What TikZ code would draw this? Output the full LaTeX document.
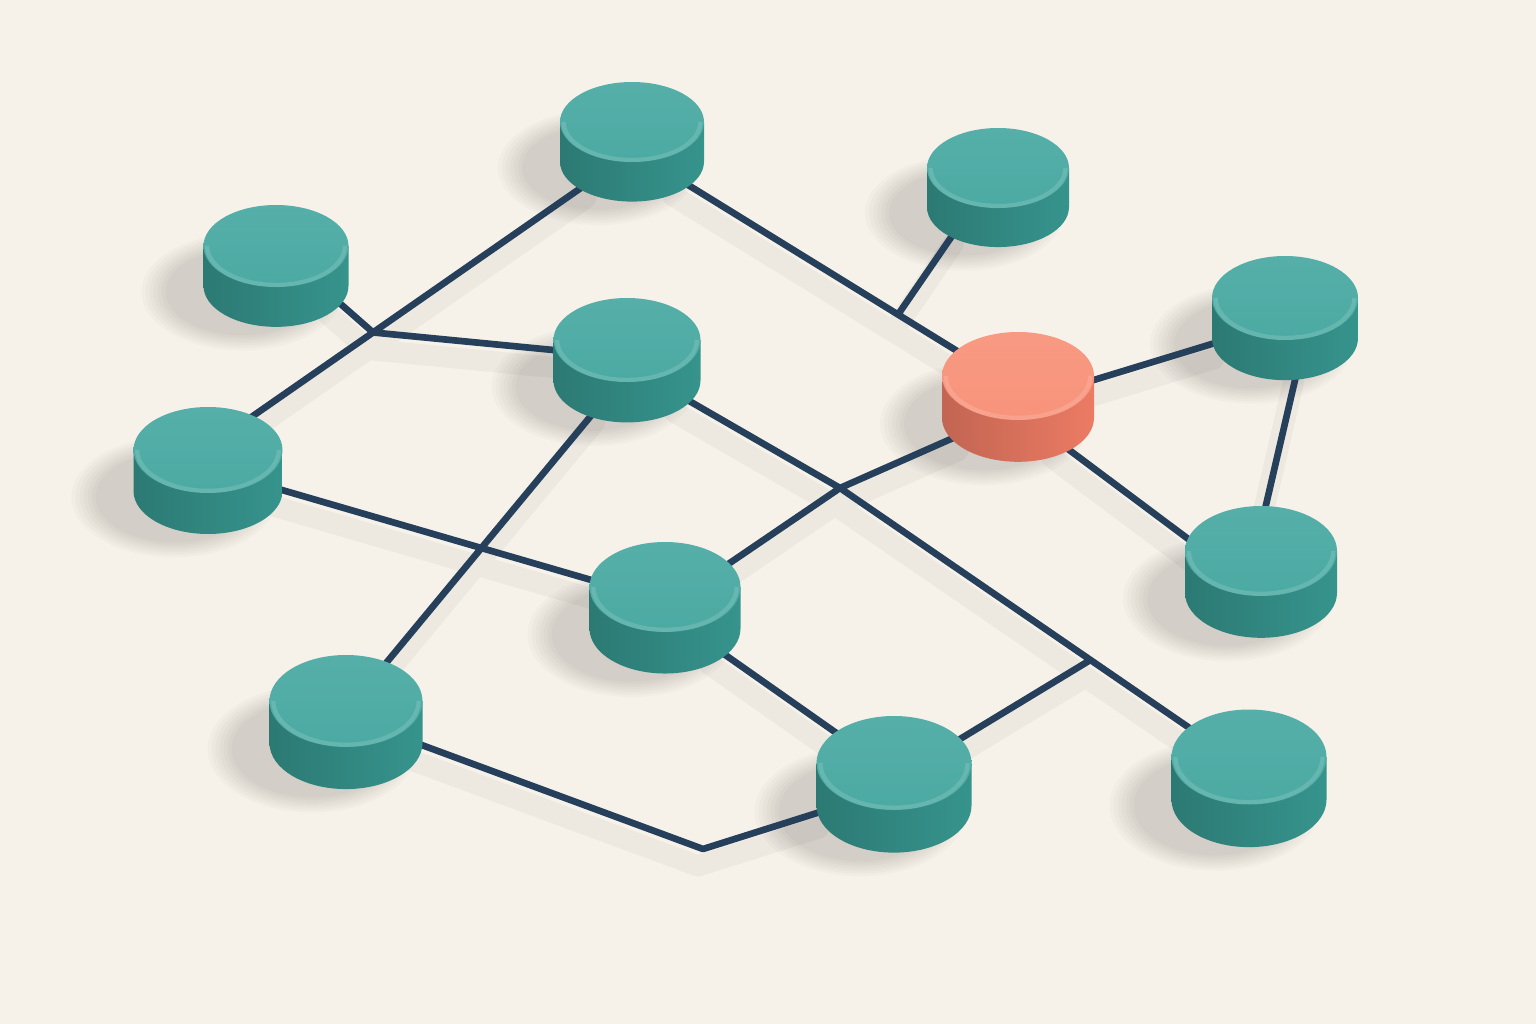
\documentclass[tikz,border=0pt]{standalone}
\usetikzlibrary{shapes.geometric,calc}
\definecolor{paper}{HTML}{F6F2EA}
\definecolor{wire}{HTML}{263F5B}
\definecolor{tealtop}{HTML}{4BAAA3}
\definecolor{tealside}{HTML}{36948D}
\definecolor{coraltop}{HTML}{F8937B}
\definecolor{coralside}{HTML}{EC7B64}

\begin{document}
\begin{tikzpicture}[x=0.01cm, y=0.01cm,
        hub/.style={ellipse, inner sep=0pt, outer sep=0pt},
        wire/.style={draw=wire, line width=1.9pt, line cap=round, line join=round},
        wireshade/.style={draw=black, opacity=0.035, line width=6pt, line cap=round, line join=round,
            transform canvas={xshift=-0.05cm, yshift=-0.17cm}},
        rim/.style={white, opacity=0.14, line width=1.2pt}]

        \fill[paper] (0,-1024) rectangle (1536,0);
        \useasboundingbox (0,-1024) rectangle (1536,0);

        \def\discs{n1/632/-122/72/40/tealtop/tealside, n2/998/-168/71/40/tealtop/tealside,
            n3/276/-246/72.5/41/tealtop/tealside, n4/627/-340/73.5/42/tealtop/tealside,
            n5/1018/-376/76/44/coraltop/coralside, n6/1285/-298/73/42/tealtop/tealside,
            n7/208/-450/74.5/43/tealtop/tealside, n8/1261/-551/76/45/tealtop/tealside,
            n9/665/-587/75.5/45/tealtop/tealside, n10/346/-701/76.5/46/tealtop/tealside,
            n11/894/-763/77.5/47/tealtop/tealside, n12/1249/-757/77.5/47.5/tealtop/tealside}

        \foreach \n/\x/\y/\rx/\ry/\ct/\cs in \discs {
            \pgfmathsetmacro\h{0.55*\rx}
            \foreach \k in {1,...,7}
                \fill[black, opacity=0.018] (\x-34,\y-\h-6) ellipse [x radius=\rx+4*\k, y radius=\ry+2.5*\k];
            \node[hub, minimum width=2*\rx*0.01cm, minimum height=2*\ry*0.01cm] (\n) at (\x,\y-0.65*\h) {};
        }

        \coordinate (j1) at ($(n1.219)!0.597!(n7.67)$);
        \coordinate (j3) at ($(n1.326)!0.729!(n5.135)$);
        \coordinate (xc) at (840,-488);
        \coordinate (j2) at ($(xc)!0.674!(n12.132)$);
        \coordinate (b1) at (703,-849);

        \foreach \s in {wireshade, wire}
            \path[\s] (n1.219) -- (n7.67)
                (n3.336) -- (j1) -- (n4.167)
                (n1.326) -- (n5.135)
                (n2.220) -- (j3)
                (n5.17) -- (n6.195)
                (n6.288) -- (n8.92)
                (n5.316) -- (n8.154)
                (n4.331) -- (xc) -- (n12.132)
                (n5.209) -- (xc) -- (n9.40)
                (n4.235) -- (n10.63)
                (n7.350) -- (n9.153)
                (n9.326) -- (n11.130)
                (n10.348) -- (b1) -- (n11.196)
                (n11.41) -- (j2);

        \foreach \n/\x/\y/\rx/\ry/\ct/\cs in \discs {
            \pgfmathsetmacro\h{0.55*\rx}
            \shade[left color=\cs!82!black, right color=\cs] (\x-\rx,\y) -- (\x-\rx,\y-\h)
                arc[start angle=180, end angle=360, x radius=\rx, y radius=\ry] -- (\x+\rx,\y) -- cycle;
            \shade[top color=\ct!94!white, bottom color=\ct] (\x,\y) ellipse [x radius=\rx, y radius=\ry];
            \draw[rim] (\x+0.95*\rx,\y) arc[start angle=0, end angle=-180, x radius=0.95*\rx, y radius=0.95*\ry];
        }
    \end{tikzpicture}
\end{document}
